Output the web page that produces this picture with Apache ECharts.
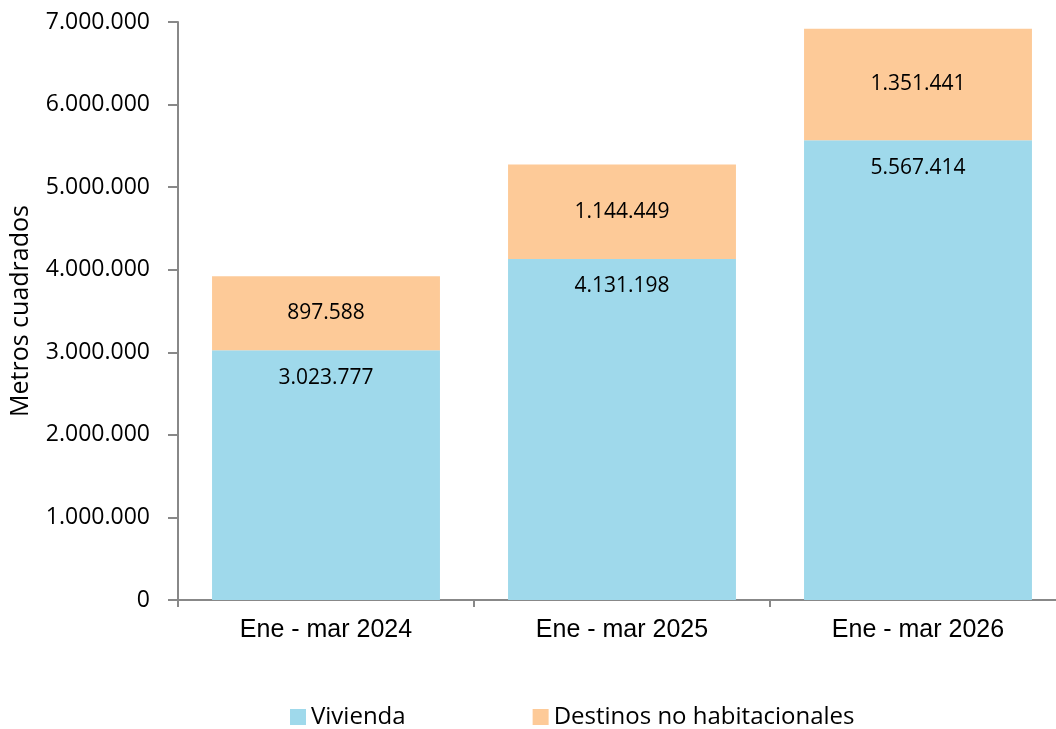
<!DOCTYPE html>
<html><head><meta charset="utf-8">
<script src="https://cdn.jsdelivr.net/npm/echarts@6/dist/echarts.min.js"></script>
<style>html,body{margin:0;padding:0;background:#fff}#c{width:1056px;height:729px}</style>
</head><body><div id="c"></div>
<script>
const categories = ['Ene - mar 2024', 'Ene - mar 2025', 'Ene - mar 2026'];
const vivienda = [3023777, 4131198, 5567414];
const noHabitacional = [897588, 1144449, 1351441];
const yTicks = [0, 1000000, 2000000, 3000000, 4000000, 5000000, 6000000, 7000000];

function fmt(v){ return String(Math.round(v)).replace(/\B(?=(\d{3})+(?!\d))/g, '.'); }

const chart = echarts.init(document.getElementById('c'));
const numFont = '"Open Sans", sans-serif';
chart.setOption({
  animation: false,
  legend: {
    bottom: -5, left: 285, itemGap: 127, itemWidth: 16, itemHeight: 16, icon: 'rect',
    textStyle: { fontFamily: numFont, fontSize: 24, color: '#000' },
    data: ['Vivienda', 'Destinos no habitacionales']
  },
  grid: { left: 178, right: -10, top: 22, bottom: 129, containLabel: false, outerBoundsMode: 'none' },
  xAxis: {
    type: 'category', data: categories,
    axisLine: { lineStyle: { color: '#888', width: 2 } },
    axisTick: { show: true, length: 7, lineStyle: { color: '#888', width: 2 } },
    axisLabel: { fontFamily: '"Liberation Sans", Arial, sans-serif', fontSize: 25, color: '#000', margin: 18 }
  },
  yAxis: {
    type: 'value', min: yTicks[0], max: yTicks[yTicks.length - 1], interval: 1000000,
    name: 'Metros cuadrados', nameLocation: 'middle', nameGap: 145, nameRotate: 90,
    nameTextStyle: { fontFamily: numFont, fontSize: 25, color: '#000' },
    axisLine: { show: true, lineStyle: { color: '#888', width: 2 } },
    axisTick: { show: true, inside: false, length: 10, lineStyle: { color: '#888', width: 2 } },
    axisLabel: { fontFamily: numFont, fontSize: 23, color: '#000', margin: 28, formatter: fmt },
    splitLine: { show: false }
  },
  series: [
    { name: 'Vivienda', type: 'bar', stack: 't', data: vivienda, barWidth: '77%',
      itemStyle: { color: '#9fd9eb' },
      label: { show: true, position: 'insideTop', distance: 17, formatter: p => fmt(p.value), fontFamily: numFont, fontSize: 21, color: '#000' } },
    { name: 'Destinos no habitacionales', type: 'bar', stack: 't', data: noHabitacional, barWidth: '77%',
      itemStyle: { color: '#fdca98' },
      label: { show: true, position: 'inside', formatter: p => fmt(p.value), fontFamily: numFont, fontSize: 21, color: '#000' } }
  ]
});
</script></body></html>
